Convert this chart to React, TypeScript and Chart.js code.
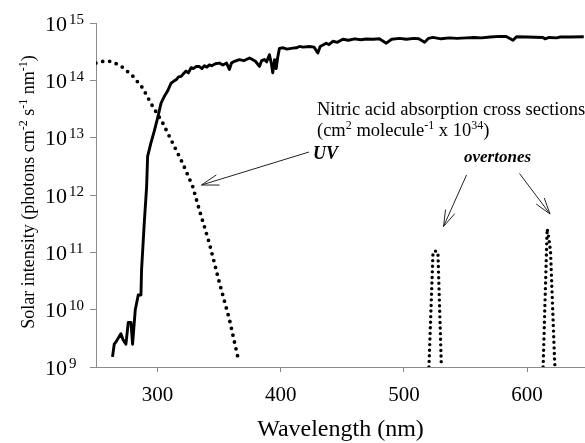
import React, { useEffect, useRef } from 'react';
import { Chart, registerables } from 'chart.js';

Chart.register(...registerables);

// ---------- data ----------
const solarWavelength = [
  263.4, 264.8, 266.5, 270.2, 272.0, 274.3, 276.2, 278.4, 279.7, 281.9, 284.3, 286.5, 287.0,
  289.2, 291.1, 291.9, 294.6, 297.3, 300.0, 302.8, 305.4, 308.1, 310.9, 313.0, 315.0, 317.0,
  319.0, 321.0, 323.1, 325.0, 327.2, 329.0, 331.2, 333.9, 336.0, 338.0, 340.0, 342.0, 344.0,
  347.0, 350.2, 353.0, 356.0, 358.3, 360.0, 362.4, 366.4, 370.0, 374.6, 377.0, 379.4, 382.7,
  384.5, 386.7, 388.5, 390.8, 392.3, 393.5, 395.0, 396.3, 397.5, 398.9, 402.0, 405.0, 409.8,
  413.0, 415.2, 418.0, 423.3, 427.0, 430.1, 432.0, 436.9, 439.0, 442.3, 446.0, 450.4, 455.0,
  460.0, 465.0, 469.4, 475.0, 480.0, 485.7, 490.0, 496.5, 502.0, 508.0, 512.0, 516.8, 520.0,
  523.6, 530.0, 537.0, 543.0, 550.7, 557.0, 563.0, 570.0, 577.8, 583.0, 588.6, 591.4, 600.0,
  612.8, 614.4, 618.0, 623.9, 627.0, 635.0, 646.0,
];
const solarIntensity = [
  1.5e9, 2.5e9, 2.8e9, 3.8e9, 3.0e9, 2.5e9, 6.0e9, 6.0e9, 2.5e9, 1.0e10, 1.8e10, 1.8e10, 5.0e10,
  3.3e11, 1.4e12, 4.7e12, 8.1e12, 1.3e13, 2.2e13, 4.0e13, 5.2e13, 6.5e13, 8.9e13, 9.6e13, 1.02e14, 1.15e14,
  1.17e14, 1.3e14, 1.45e14, 1.35e14, 1.66e14, 1.6e14, 1.74e14, 1.74e14, 1.6e14, 1.8e14, 1.7e14, 1.86e14, 1.8e14,
  1.95e14, 2.0e14, 1.85e14, 2.0e14, 1.55e14, 2.0e14, 2.15e14, 2.3e14, 2.2e14, 2.45e14, 2.3e14, 2.15e14, 1.75e14,
  2.2e14, 2.3e14, 2.1e14, 2.8e14, 2.0e14, 1.35e14, 2.3e14, 1.6e14, 2.5e14, 3.6e14, 3.7e14, 3.5e14, 3.65e14,
  3.7e14, 3.9e14, 3.8e14, 3.9e14, 3.8e14, 3.0e14, 3.9e14, 4.45e14, 4.2e14, 4.8e14, 4.6e14, 5.2e14, 5.0e14,
  5.3e14, 5.1e14, 5.25e14, 5.2e14, 5.3e14, 4.45e14, 5.2e14, 5.4e14, 5.2e14, 5.4e14, 5.3e14, 4.6e14, 5.4e14,
  5.6e14, 5.3e14, 5.5e14, 5.4e14, 5.5e14, 5.6e14, 5.5e14, 5.7e14, 5.85e14, 5.8e14, 5.0e14, 5.75e14, 5.7e14,
  5.6e14, 5.3e14, 5.6e14, 5.5e14, 5.7e14, 5.7e14, 5.75e14,
];

const uvWavelength = [249.9, 256.0, 262.1, 270.0, 279.7, 287.8, 295.9, 304.1, 312.2, 320.3, 328.5, 333.9, 342.0, 350.2, 358.3, 365.9];
const uvCrossSection = [2.0e14, 2.15e14, 2.14e14, 1.8e14, 1.2e14, 7.4e13, 3.55e13, 1.82e13, 8.1e12, 3.6e12, 1.41e12, 5.5e11, 1.45e11, 2.95e10, 6.8e9, 1.26e9];

const overtone1Wavelength = [520.3, 523.6, 525.6, 527.6, 530.4];
const overtone1CrossSection = [1.0e9, 1.0e11, 1.05e11, 1.0e11, 1.0e9];

const overtone2Wavelength = [613.0, 615.8, 616.3, 617.6, 619.0, 622.4, 622.7];
const overtone2CrossSection = [1.0e9, 1.17e11, 2.57e11, 1.78e11, 1.05e11, 1.17e9, 1.0e9];

const xTickValues = [300, 400, 500, 600];
const yTickExponents = [9, 10, 11, 12, 13, 14, 15];

const SERIF = "'Liberation Serif', 'Times New Roman', serif";

type Seg = [string, boolean];

function segWidth(ctx: CanvasRenderingContext2D, segs: Seg[], base: string, sup: string) {
  let w = 0;
  for (const [t, s] of segs) {
    ctx.font = s ? sup : base;
    w += ctx.measureText(t).width;
  }
  return w;
}

function drawSegs(ctx: CanvasRenderingContext2D, segs: Seg[], x: number, y: number, base: string, sup: string, rise: number) {
  let cx = x;
  for (const [t, s] of segs) {
    ctx.font = s ? sup : base;
    ctx.fillText(t, cx, s ? y - rise : y);
    cx += ctx.measureText(t).width;
  }
}

function arrow(ctx: CanvasRenderingContext2D, x1: number, y1: number, x2: number, y2: number, len = 17, ang = 0.28) {
  const a = Math.atan2(y1 - y2, x1 - x2);
  ctx.beginPath();
  ctx.moveTo(x1, y1);
  ctx.lineTo(x2, y2);
  ctx.moveTo(x2 + len * Math.cos(a + ang), y2 + len * Math.sin(a + ang));
  ctx.lineTo(x2, y2);
  ctx.lineTo(x2 + len * Math.cos(a - ang), y2 + len * Math.sin(a - ang));
  ctx.stroke();
}

const textPlugin = {
  id: 'textPlugin',
  afterDraw(chart: any) {
    const ctx: CanvasRenderingContext2D = chart.ctx;
    const ys = chart.scales.y;
    const area = chart.chartArea;
    ctx.save();
    ctx.fillStyle = '#000';
    ctx.textAlign = 'left';
    ctx.textBaseline = 'alphabetic';

    // y tick labels 10^n
    for (const e of yTickExponents) {
      const py = ys.getPixelForValue(Math.pow(10, e));
      ctx.font = `22px ${SERIF}`;
      ctx.fillText('10', 45, py + 7.5);
      const w = ctx.measureText('10').width;
      ctx.font = `15px ${SERIF}`;
      ctx.fillText(String(e), 45 + w + 2, py + 0.5);
    }

    // y axis title
    const tBase = `18px ${SERIF}`;
    const tSup = `12px ${SERIF}`;
    const titleSegs: Seg[] = [
      ['Solar intensity (photons cm', false], ['-2', true], [' s', false], ['-1', true], [' nm', false], ['-1', true], [')', false],
    ];
    ctx.save();
    ctx.translate(34, (area.top + area.bottom) / 2 - 3);
    ctx.rotate(-Math.PI / 2);
    const tw = segWidth(ctx, titleSegs, tBase, tSup);
    drawSegs(ctx, titleSegs, -tw / 2, 0, tBase, tSup, 7);
    ctx.restore();

    // annotations
    const aBase = `18.5px ${SERIF}`;
    const aSup = `12px ${SERIF}`;
    ctx.font = aBase;
    ctx.fillText('Nitric acid absorption cross sections', 317, 115);
    const l2: Seg[] = [['(cm', false], ['2', true], [' molecule', false], ['-1', true], [' x 10', false], ['34', true], [')', false]];
    drawSegs(ctx, l2, 317, 136, aBase, aSup, 7);

    ctx.font = `bold italic 18px ${SERIF}`;
    ctx.fillText('UV', 313, 159);
    ctx.font = `bold italic 17px ${SERIF}`;
    ctx.fillText('overtones', 464, 162);

    ctx.strokeStyle = '#222';
    ctx.lineWidth = 1;
    arrow(ctx, 309, 152, 201.5, 185, 18, 0.3);
    arrow(ctx, 466.5, 175, 443.5, 226.5, 17, 0.3);
    arrow(ctx, 519.5, 173.5, 550, 214, 17, 0.3);
    ctx.restore();
  },
};

const pts = (xs: number[], ys: number[]) => xs.map((x, i) => ({ x, y: ys[i] }));

export default function App() {
  const ref = useRef<HTMLCanvasElement | null>(null);
  useEffect(() => {
    document.body.style.margin = '0';
    const canvas = ref.current;
    if (!canvas) return;
    const dotted = (d: { x: number; y: number }[], width: number, gap: number) => ({
      data: d,
      borderColor: '#000',
      backgroundColor: '#000',
      borderWidth: width,
      borderDash: [0, gap],
      borderCapStyle: 'round' as const,
      pointRadius: 0,
      fill: false,
      tension: 0,
    });
    const chart = new Chart(canvas, {
      type: 'line',
      data: {
        datasets: [
          dotted(pts(uvWavelength, uvCrossSection), 3.8, 7),
          dotted(pts(overtone1Wavelength, overtone1CrossSection), 3.4, 5.6),
          dotted(pts(overtone2Wavelength, overtone2CrossSection), 3.4, 5.6),
          {
            data: pts(solarWavelength, solarIntensity),
            borderColor: '#000',
            borderWidth: 2.9,
            pointRadius: 0,
            fill: false,
            tension: 0,
            borderJoinStyle: 'round',
          },
        ],
      },
      options: {
        responsive: false,
        animation: false,
        devicePixelRatio: 1,
        layout: { padding: { top: 23, right: 0, left: 0, bottom: 0 } },
        plugins: { legend: { display: false }, tooltip: { enabled: false }, title: { display: false } },
        scales: {
          x: {
            type: 'linear',
            min: 250,
            max: 647,
            afterFit: (s: any) => { s.height = 76; },
            afterBuildTicks: (s: any) => { s.ticks = xTickValues.map((v) => ({ value: v })); },
            ticks: {
              font: { family: SERIF, size: 21 },
              color: '#000',
              padding: 11,
              maxRotation: 0,
              autoSkip: false,
              callback: (v: any) => String(v),
            },
            grid: { drawOnChartArea: false, drawTicks: true, tickLength: 5, color: '#8a8a8a' },
            border: { display: true, color: '#8a8a8a', width: 1 },
            title: {
              display: true,
              text: 'Wavelength (nm)',
              font: { family: SERIF, size: 24, lineHeight: 1 },
              color: '#000',
              padding: { top: 0, bottom: 1 },
            },
          },
          y: {
            type: 'logarithmic',
            min: 1e9,
            max: 1e15,
            afterFit: (s: any) => { s.width = 96; },
            afterBuildTicks: (s: any) => { s.ticks = yTickExponents.map((e) => ({ value: Math.pow(10, e) })); },
            ticks: { callback: () => '', padding: 0 },
            grid: { drawOnChartArea: false, drawTicks: true, tickLength: 6, color: '#8a8a8a' },
            border: { display: true, color: '#8a8a8a', width: 1 },
          },
        },
      } as any,
      plugins: [textPlugin],
    });
    return () => chart.destroy();
  }, []);
  return (
    <div style={{ width: 585, height: 443 }}>
      <canvas ref={ref} width={585} height={443} style={{ display: 'block' }} />
    </div>
  );
}
